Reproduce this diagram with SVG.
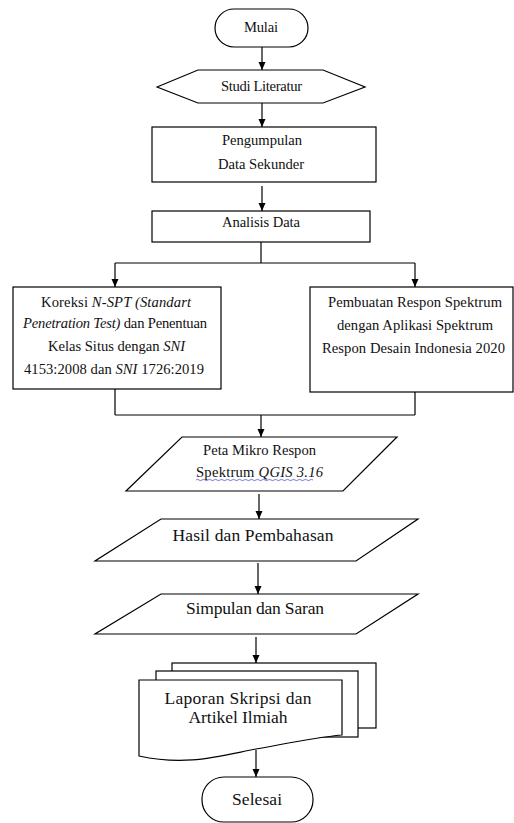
<svg xmlns="http://www.w3.org/2000/svg" width="514" height="823" viewBox="0 0 514 823">
<style>
.s{fill:#fff;stroke:#000;stroke-width:1.2}
.c{fill:none;stroke:#000;stroke-width:1.2}
.t{font-family:"Liberation Serif","Times New Roman",serif;font-size:14.6px;fill:#111;text-anchor:middle}
.L{font-size:17.5px}
.i{font-style:italic}
</style>
<defs>
<marker id="ah" markerUnits="userSpaceOnUse" markerWidth="8" markerHeight="8" refX="8" refY="4" orient="auto">
<path d="M0,0.5 L8,4 L0,7.5 z" fill="#000"/>
</marker>
</defs>
<rect width="514" height="823" fill="#fff"/>
<g id="connectors">
<path class="c" d="M262,47 V70" marker-end="url(#ah)"/>
<path class="c" d="M262,103 V127" marker-end="url(#ah)"/>
<path class="c" d="M262,186 V211" marker-end="url(#ah)"/>
<path class="c" d="M261,242 V263 M115,263 H415"/>
<path class="c" d="M115,263 V287" marker-end="url(#ah)"/>
<path class="c" d="M415,263 V287" marker-end="url(#ah)"/>
<path class="c" d="M115,389 V415 M415,392 V415 M115,415 H415"/>
<path class="c" d="M261,415 V437" marker-end="url(#ah)"/>
<path class="c" d="M259,494 V519" marker-end="url(#ah)"/>
<path class="c" d="M258,563 V594" marker-end="url(#ah)"/>
<path class="c" d="M256,637 V663" marker-end="url(#ah)"/>
</g>
<g id="mulai">
<rect class="s" x="215" y="9" width="93" height="38" rx="19"/>
<text class="t" x="261" y="32" textLength="34">Mulai</text>
</g>
<g id="studi-literatur">
<polygon class="s" points="157,87 198,70 323,70 365,87 323,103 198,103"/>
<text class="t" x="261.5" y="91" textLength="81">Studi Literatur</text>
</g>
<g id="pengumpulan">
<rect class="s" x="152" y="127" width="224" height="55"/>
<text class="t" x="262" y="145" textLength="80">Pengumpulan</text>
<text class="t" x="261" y="169" textLength="86">Data Sekunder</text>
</g>
<g id="analisis">
<rect class="s" x="152" y="211" width="218" height="31"/>
<text class="t" x="261" y="227" textLength="78">Analisis Data</text>
</g>
<g id="koreksi">
<rect class="s" x="13" y="287" width="208" height="102"/>
<text class="t" x="116" y="307" textLength="150">Koreksi <tspan class="i">N-SPT (Standart</tspan></text>
<text class="t" x="115" y="328" textLength="184"><tspan class="i">Penetration Test)</tspan> dan Penentuan</text>
<text class="t" x="116.5" y="351" textLength="137">Kelas Situs dengan <tspan class="i">SNI</tspan></text>
<text class="t" x="114" y="374" textLength="180">4153:2008 dan <tspan class="i">SNI</tspan> 1726:2019</text>
</g>
<g id="pembuatan">
<rect class="s" x="310" y="287" width="203" height="105"/>
<text class="t" x="415" y="307" textLength="174">Pembuatan Respon Spektrum</text>
<text class="t" x="415" y="330" textLength="156">dengan Aplikasi Spektrum</text>
<text class="t" x="413.5" y="353" textLength="183">Respon Desain Indonesia 2020</text>
</g>
<g id="peta">
<polygon class="s" points="182,437 397,437 343,491 126,491"/>
<text class="t" x="259.5" y="455" textLength="113">Peta Mikro Respon</text>
<text class="t" x="259.5" y="477" textLength="127">Spektrum <tspan class="i">QGIS 3.16</tspan></text>
<path d="M196,480 q1.5,-1.2 3,0 t3,0 t3,0 t3,0 t3,0 t3,0 t3,0 t3,0 t3,0 t3,0 t3,0 t3,0 t3,0 t3,0 t3,0 t3,0 t3,0 t3,0 t3,0 t3,0 t3,0 t3,0 t3,0 t3,0 t3,0 t3,0 t3,0 t3,0 t3,0 t3,0 t3,0 t3,0 t3,0 t3,0 t3,0 t3,0 t3,0 t3,0 t3,0" fill="none" stroke="#4a5bd0" stroke-width="0.8"/>
</g>
<g id="hasil">
<polygon class="s" points="161,519 418,519 356,561 95,561"/>
<text class="t L" x="253" y="541" textLength="161">Hasil dan Pembahasan</text>
</g>
<g id="simpulan">
<polygon class="s" points="161,594 418,594 356,634 95,634"/>
<text class="t L" x="255" y="614" textLength="138">Simpulan dan Saran</text>
</g>
<g id="laporan">
<rect class="s" x="172" y="663" width="204" height="65"/>
<rect class="s" x="156" y="671" width="202" height="66"/>
<path class="s" d="M139,680 H342 V735 C310,738 285,744 256,749 C215,757 185,766 139,756 Z"/>
<text class="t L" x="238" y="704" textLength="147">Laporan Skripsi dan</text>
<text class="t L" x="238" y="723" textLength="99">Artikel Ilmiah</text>
</g>
<path class="c" d="M256,750 V777" marker-end="url(#ah)"/>
<g id="selesai">
<rect class="s" x="202" y="777" width="111" height="45" rx="22"/>
<text class="t L" x="257" y="805" textLength="50">Selesai</text>
</g>
</svg>
